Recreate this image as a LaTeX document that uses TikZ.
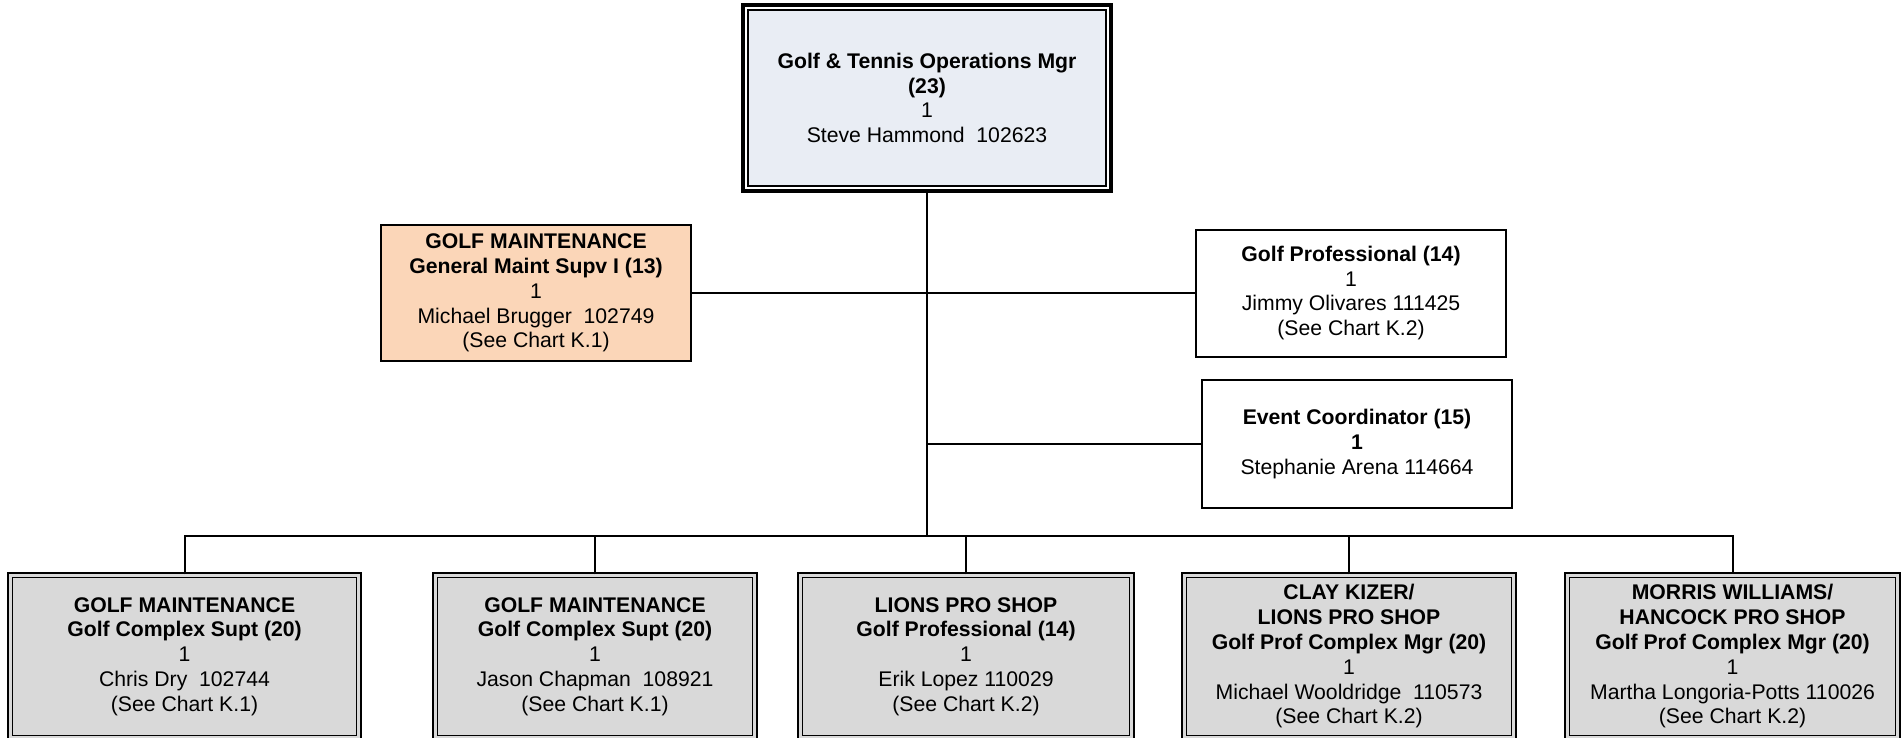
\documentclass[tikz,border=0pt]{standalone}
\usepackage{fontspec}
\setmainfont{Liberation Sans}
\definecolor{topfill}{HTML}{E9EDF4}
\definecolor{peach}{HTML}{FBD6B8}
\definecolor{boxgray}{HTML}{D9D9D9}
\begin{document}
\begin{tikzpicture}[x=0.5pt,y=-0.5pt,
  every node/.style={font=\fontsize{10.6}{12.4}\selectfont, align=center, inner sep=0pt},
  topbox/.style={draw, fill=topfill, line width=1pt, minimum width=179pt, minimum height=88pt},
  topframe/.style={draw, line width=2pt},
  plainbox/.style={draw, fill=white, line width=1pt, minimum width=155pt},
  botbox/.style={draw, fill=boxgray, line width=0.8pt, double=boxgray, double distance=1.5pt, minimum height=81.4pt},
  conn/.style={line width=1pt}]
\useasboundingbox (0,0) rectangle (1904,738);
% nodes
\node[topbox] (top) at (927,98) {\textbf{Golf \& Tennis Operations Mgr}\\\textbf{(23)}\\1\\Steve Hammond\ \ 102623};
\draw[topframe] ([xshift=-2pt,yshift=2pt]top.north west) rectangle ([xshift=2pt,yshift=-2pt]top.south east);
\node[plainbox, fill=peach, minimum height=68pt] (maint) at (536,293) {\textbf{GOLF MAINTENANCE}\\\textbf{General Maint Supv I (13)}\\1\\Michael Brugger\ \ 102749\\(See Chart K.1)};
\node[plainbox, minimum height=63.5pt] (gpro) at (1351,293) {\textbf{Golf Professional (14)}\\1\\Jimmy Olivares 111425\\(See Chart K.2)};
\node[plainbox, minimum height=64pt] (event) at (1357,444) {\textbf{Event Coordinator (15)}\\\textbf{1}\\Stephanie Arena 114664};
\node[botbox, minimum width=174.4pt] (b1) at (184.5,656.5) {\textbf{GOLF MAINTENANCE}\\\textbf{Golf Complex Supt (20)}\\1\\Chris Dry\ \ 102744\\(See Chart K.1)};
\node[botbox, minimum width=159.9pt] (b2) at (595,656.5) {\textbf{GOLF MAINTENANCE}\\\textbf{Golf Complex Supt (20)}\\1\\Jason Chapman\ \ 108921\\(See Chart K.1)};
\node[botbox, minimum width=165.9pt] (b3) at (966,656.5) {\textbf{LIONS PRO SHOP}\\\textbf{Golf Professional (14)}\\1\\Erik Lopez 110029\\(See Chart K.2)};
\node[botbox, minimum width=164.9pt] (b4) at (1349,656.5) {\textbf{CLAY KIZER/}\\\textbf{LIONS PRO SHOP}\\\textbf{Golf Prof Complex Mgr (20)}\\1\\Michael Wooldridge\ \ 110573\\(See Chart K.2)};
\node[botbox, minimum width=165.4pt] (b5) at (1732.5,656.5) {\textbf{MORRIS WILLIAMS/}\\\textbf{HANCOCK PRO SHOP}\\\textbf{Golf Prof Complex Mgr (20)}\\1\\Martha Longoria-Potts 110026\\(See Chart K.2)};
% connectors
\coordinate (bus) at (927,536);
\draw[conn] (top.south) ++(0,5) -- (bus);
\draw[conn] (b1.north) |- (bus) -| (b5.north);
\draw[conn] (b2.north) -- (b2.north |- bus);
\draw[conn] (b3.north) -- (b3.north |- bus);
\draw[conn] (b4.north) -- (b4.north |- bus);
\draw[conn] (maint.east) -- (maint.east -| gpro.west);
\draw[conn] (event.west) -- (event.west -| bus);
\end{tikzpicture}
\end{document}
